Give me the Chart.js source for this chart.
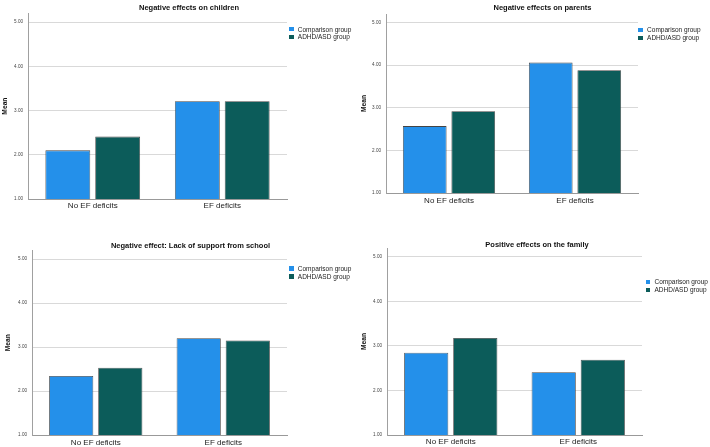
<!DOCTYPE html>
<html>
<head>
<meta charset="utf-8">
<script src="https://cdn.jsdelivr.net/npm/chart.js@4.4.1/dist/chart.umd.min.js"></script>
<style>
  html, body { margin: 0; width: 710px; height: 447px; overflow: hidden; background: #fff; }
  body { position: relative; font-family: 'Liberation Sans', Arial, sans-serif; }
  canvas { position: absolute; }
  .legend { position: absolute; font-size: 6.5px; color: #222; }
  .legend .item { display: flex; align-items: center; height: 7.8px; white-space: nowrap; }
  .legend .box { flex: 0 0 4.5px; width: 4.5px; height: 4.5px; margin-right: 4.3px; }
</style>
</head>
<body>
<canvas id="c1"></canvas>
<canvas id="c2"></canvas>
<canvas id="c3"></canvas>
<canvas id="c4"></canvas>
<script>
const categories = ['No EF deficits', 'EF deficits'];
const groups = ['Comparison group', 'ADHD/ASD group'];
const titles = [
  'Negative effects on children',
  'Negative effects on parents',
  'Negative effect: Lack of support from school',
  'Positive effects on the family',
];
const yTicks = [1, 2, 3, 4, 5];

const childrenComparison = [2.10, 3.21];
const childrenAdhd = [2.41, 3.21];
const parentsComparison = [2.57, 4.06];
const parentsAdhd = [2.92, 3.88];
const schoolComparison = [2.34, 3.20];
const schoolAdhd = [2.53, 3.15];
const familyComparison = [2.85, 2.41];
const familyAdhd = [3.18, 2.69];

const colors = ['#2490ea', '#0c5c5a'];
const font = "'Liberation Sans', Arial, sans-serif";

const panels = [
  { id: 'c1', title: titles[0], values: [childrenComparison, childrenAdhd],
    left: 0, top: 0, width: 378, height: 213, yWidth: 28, padRight: 91,
    titlePad: { top: 4.5, bottom: 2.7 }, meanPad: 1.5, xPad: 2, legendX: 289, legendY: 25.3 },
  { id: 'c2', title: titles[1], values: [parentsComparison, parentsAdhd],
    left: 357, top: 0, width: 371, height: 207, yWidth: 29, padRight: 90,
    titlePad: { top: 5.3, bottom: 2.7 }, meanPad: 4, xPad: 3, legendX: 638.3, legendY: 26.1 },
  { id: 'c3', title: titles[2], values: [schoolComparison, schoolAdhd],
    left: 0, top: 234, width: 381, height: 215, yWidth: 32, padRight: 94,
    titlePad: { top: 8.7, bottom: 1.6 }, meanPad: 4.5, xPad: 2.5, legendX: 289, legendY: 264.8 },
  { id: 'c4', title: titles[3], values: [familyComparison, familyAdhd],
    left: 357, top: 234, width: 360, height: 215, yWidth: 30, padRight: 75,
    titlePad: { top: 8, bottom: 0 }, meanPad: 3.5, xPad: 2.2, legendX: 645.7, legendY: 278.1 },
];

function makeLegend(chart, p) {
  const div = document.createElement('div');
  div.className = 'legend';
  div.style.left = p.legendX + 'px';
  div.style.top = p.legendY + 'px';
  chart.data.datasets.forEach(ds => {
    const row = document.createElement('div');
    row.className = 'item';
    const box = document.createElement('span');
    box.className = 'box';
    box.style.background = ds.backgroundColor;
    const txt = document.createElement('span');
    txt.textContent = ds.label;
    row.appendChild(box);
    row.appendChild(txt);
    div.appendChild(row);
  });
  document.body.appendChild(div);
}

panels.forEach(p => {
  const canvas = document.getElementById(p.id);
  canvas.width = p.width;
  canvas.height = p.height;
  canvas.style.left = p.left + 'px';
  canvas.style.top = p.top + 'px';

  const chart = new Chart(canvas, {
    type: 'bar',
    data: {
      labels: categories,
      datasets: groups.map((g, i) => ({
        label: g,
        data: p.values[i],
        backgroundColor: colors[i],
        borderColor: '#444',
        borderWidth: 0.8,
        categoryPercentage: 0.77,
        barPercentage: 0.9,
      })),
    },
    options: {
      responsive: false,
      animation: false,
      layout: { padding: 0 },
      plugins: {
        legend: { display: false },
        tooltip: { enabled: false },
        title: {
          display: true,
          text: p.title,
          color: '#111',
          font: { family: font, size: 7.5, weight: 'bold', lineHeight: 0.8 },
          padding: p.titlePad,
        },
      },
      scales: {
        x: {
          grid: { display: false, drawTicks: false },
          border: { display: true, color: '#999', width: 1 },
          ticks: { color: '#222', padding: p.xPad, font: { family: font, size: 8 } },
          afterFit: s => { s.height = 14; },
        },
        y: {
          min: 1,
          max: 5.2,
          afterBuildTicks: s => { s.ticks = yTicks.map(v => ({ value: v })); },
          ticks: {
            color: '#444',
            padding: 5,
            font: { family: font, size: 4.6 },
            callback: v => Number(v).toFixed(2),
          },
          grid: { color: '#d9d9d9', lineWidth: 1, drawTicks: false },
          border: { display: true, color: '#a0a0a0', width: 1 },
          title: {
            display: true,
            text: 'Mean',
            color: '#111',
            font: { family: font, size: 6.7, weight: 'bold', lineHeight: 1 },
            padding: { top: p.meanPad, bottom: 0 },
          },
          afterFit: s => { s.width = p.yWidth; },
        },
        pad: {
          type: 'linear',
          position: 'right',
          display: true,
          grid: { display: false },
          border: { display: false },
          ticks: { display: false },
          afterFit: s => { s.width = p.padRight; },
        },
      },
    },
  });

  makeLegend(chart, p);
});
</script>
</body>
</html>
